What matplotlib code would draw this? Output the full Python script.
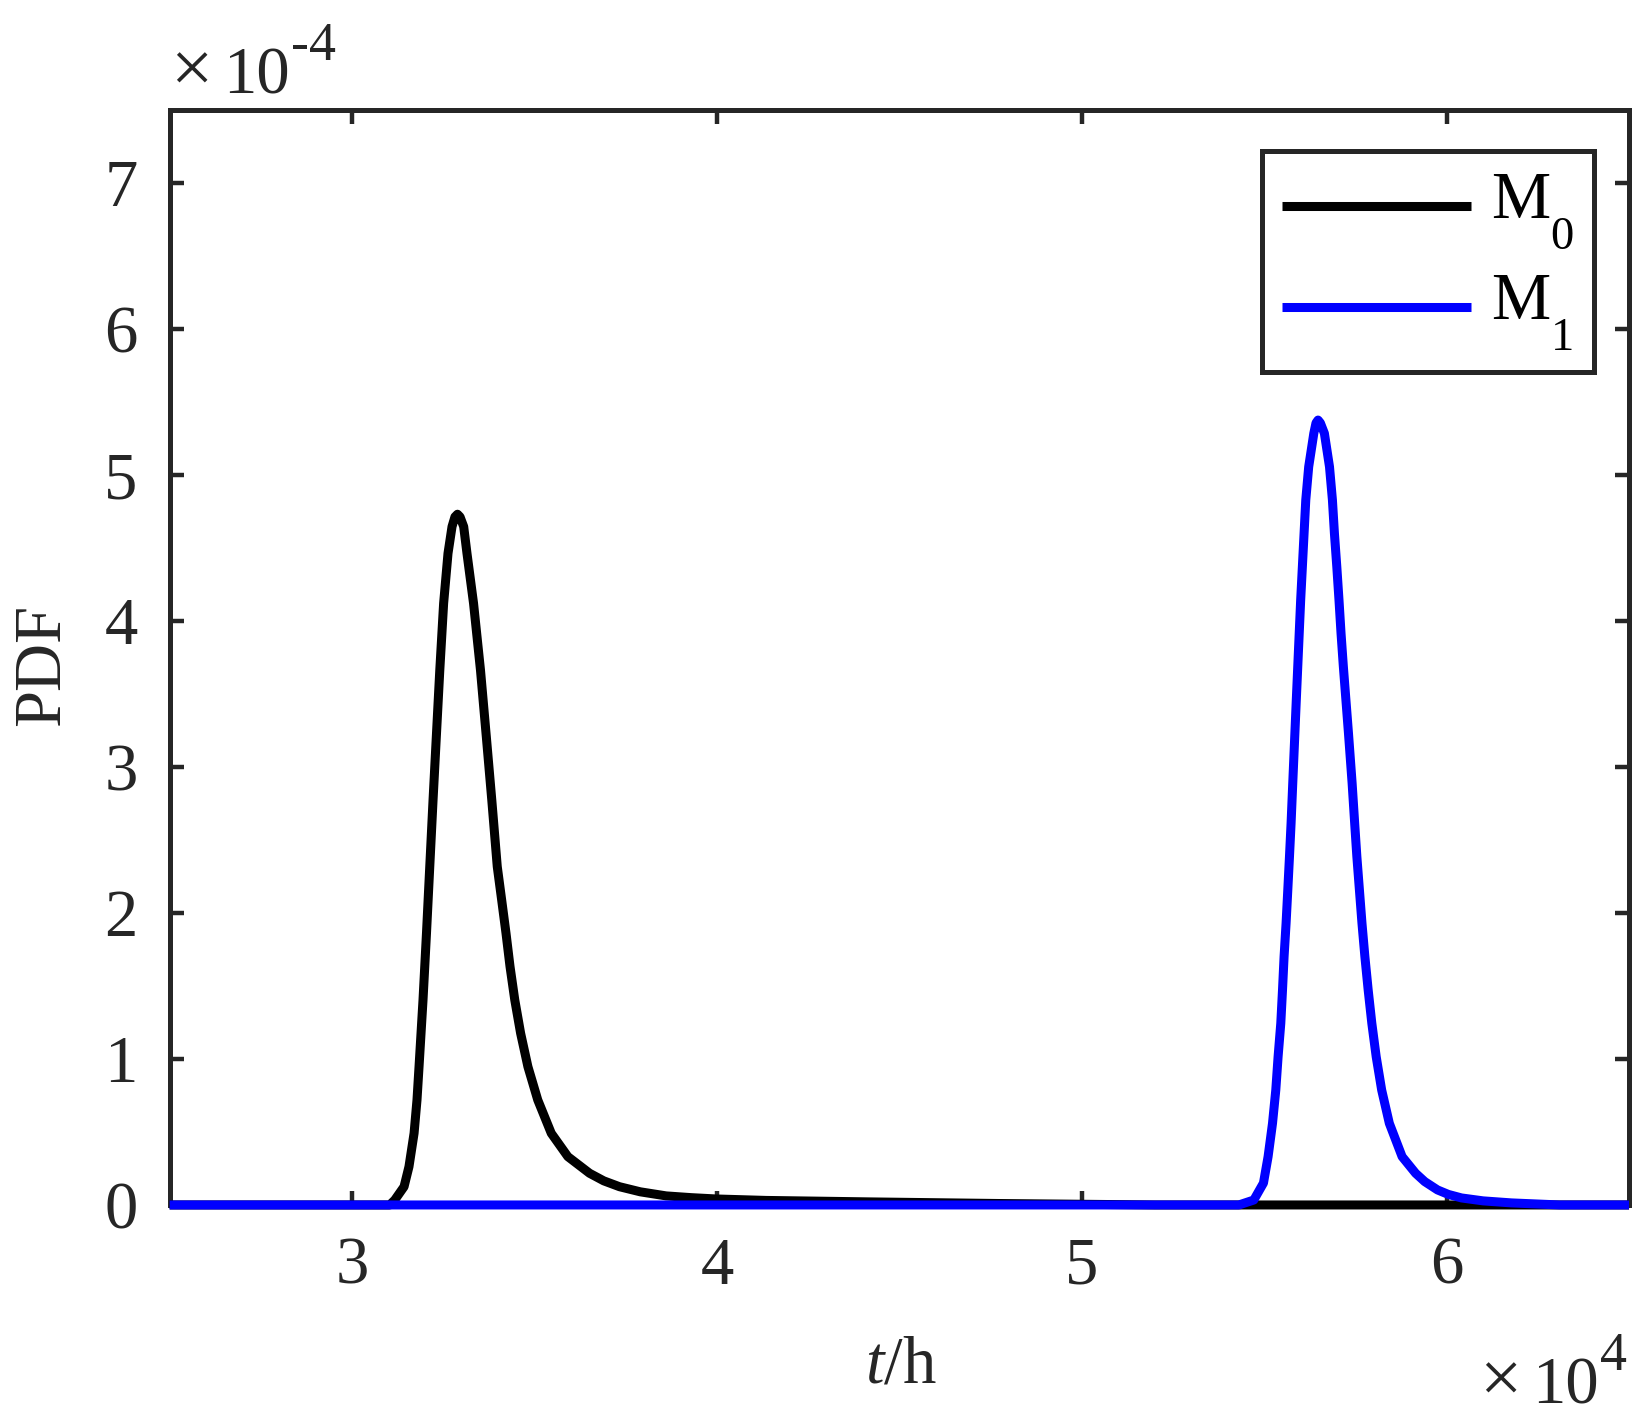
import numpy as np
import matplotlib
matplotlib.use('Agg')
import matplotlib.pyplot as plt

plt.rcParams['font.family'] = ['Liberation Serif', 'DejaVu Serif']
plt.rcParams['mathtext.fontset'] = 'custom'
plt.rcParams['mathtext.rm'] = 'Liberation Serif'
plt.rcParams['mathtext.it'] = 'Liberation Serif:italic'

# MATLAB puts subscripts much lower than mathtext does
try:
    from matplotlib import _mathtext
    _mathtext.FontConstantsBase.sub1 = 1.0
    _mathtext.FontConstantsBase.subdrop = 1.0
except Exception:
    pass

# t in units of 1e4 h, PDF in units of 1e-4
t_m0 = [2.5, 3.103, 3.117, 3.1425, 3.156, 3.170, 3.178, 3.1836, 3.1945, 3.204,
        3.213, 3.222, 3.231, 3.2405, 3.251, 3.263, 3.274, 3.282, 3.289, 3.296,
        3.306, 3.315, 3.333, 3.352, 3.368, 3.383, 3.398, 3.410, 3.422, 3.433,
        3.446, 3.462, 3.482, 3.509, 3.546, 3.5915, 3.651, 3.69, 3.733, 3.79,
        3.861, 3.93, 3.998, 4.135, 4.4175, 4.77, 5.2, 6.5]
pdf_m0 = [0, 0, 0.034, 0.125, 0.262, 0.491, 0.719, 0.947, 1.404, 1.860,
          2.317, 2.773, 3.207, 3.663, 4.120, 4.462, 4.645, 4.712, 4.730, 4.712,
          4.645, 4.462, 4.120, 3.663, 3.207, 2.773, 2.317, 2.090, 1.860, 1.632,
          1.404, 1.176, 0.947, 0.719, 0.491, 0.331, 0.217, 0.165, 0.125, 0.090,
          0.062, 0.050, 0.041, 0.031, 0.021, 0.010, 0, 0]

t_m1 = [2.5, 5.4305, 5.4716, 5.498, 5.5107, 5.5228, 5.5318, 5.5381, 5.5455, 5.5502,
        5.5545, 5.560, 5.5647, 5.5693, 5.5737, 5.5775, 5.588, 5.600, 5.614, 5.622,
        5.636, 5.642, 5.6476, 5.654, 5.665, 5.679, 5.687, 5.6925, 5.699, 5.705,
        5.7106, 5.717, 5.724, 5.731, 5.741, 5.748, 5.754, 5.761, 5.768, 5.776,
        5.785, 5.795, 5.807, 5.822, 5.843, 5.878, 5.915, 5.94, 5.975, 6.005,
        6.041, 6.10, 6.178, 6.31, 6.5]
pdf_m1 = [0, 0, 0.034, 0.150, 0.331, 0.559, 0.787, 1.015, 1.244, 1.472,
          1.700, 1.929, 2.157, 2.385, 2.614, 2.842, 3.458, 4.143, 4.828, 5.055,
          5.284, 5.355, 5.375, 5.355, 5.284, 5.055, 4.828, 4.599, 4.371, 4.143,
          3.915, 3.686, 3.458, 3.230, 2.888, 2.614, 2.385, 2.157, 1.929, 1.700,
          1.472, 1.244, 1.015, 0.787, 0.559, 0.331, 0.217, 0.160, 0.103, 0.072,
          0.048, 0.028, 0.014, 0, 0]

x_ticks = [3, 4, 5, 6]
y_ticks = [0, 1, 2, 3, 4, 5, 6, 7]
fg = '#262626'
fs = 48
W, H = 1650, 1427

fig = plt.figure(figsize=(16.5, 14.27), dpi=100)
ax = fig.add_axes([0.1028, 0.1556, 0.8845, 0.7675])

l0, = ax.plot(t_m0, pdf_m0, color='black', lw=6.5, clip_on=False, zorder=3,
              solid_joinstyle='round', solid_capstyle='butt', label=r'M$_0$')
l1, = ax.plot(t_m1, pdf_m1, color='blue', lw=6.5, clip_on=False, zorder=3,
              solid_joinstyle='round', solid_capstyle='butt', label=r'M$_1$')

ax.set_xlim(2.5, 6.5)
ax.set_ylim(0, 7.5)
ax.set_xticks(x_ticks)
ax.set_yticks(y_ticks)
ax.set_xticklabels([str(v) for v in x_ticks])
ax.set_yticklabels([str(v) for v in y_ticks])
ax.tick_params(direction='in', length=10, width=3.2, top=True, right=True,
               labelsize=fs, colors=fg, pad=23)
for s in ax.spines.values():
    s.set_linewidth(3.6)
    s.set_color(fg)

leg = ax.legend(handles=[l0, l1], loc='upper right', bbox_to_anchor=(0.976, 0.962),
                borderaxespad=0, fontsize=fs, handlelength=2.83, handletextpad=0.3,
                labelspacing=0.31, fancybox=False, framealpha=1, borderpad=0.3)
leg.get_frame().set_edgecolor(fg)
leg.get_frame().set_linewidth(3.6)
for h in leg.get_lines():
    h.set_linewidth(6.5)
    # sit the sample line lower, level with the middle of "M" + subscript
    h.set_ydata(np.asarray(h.get_ydata()) - 8)


def scale_label(x0, base, exp, sub=39):
    # "x10^n" written the MATLAB way, pixel positions from the reference
    fig.text((x0 - 3) / W, 1 - base / H, '\u00d7', fontsize=54, color=fg,
             ha='left', va='baseline')
    fig.text((x0 + 50) / W, 1 - base / H, '10', fontsize=fs, color=fg,
             ha='left', va='baseline')
    fig.text((x0 + 118) / W, 1 - (base - 33) / H, exp, fontsize=sub, color=fg,
             ha='left', va='baseline')


scale_label(173, 93, '-4')
scale_label(1482, 1403, '4')

fig.text(901 / W, 1 - 1383 / H, r'$t$/h', fontsize=fs, color=fg,
         ha='center', va='baseline')
fig.text(43 / W, 1 - 665 / H, 'PDF', fontsize=fs, color=fg, rotation=90,
         ha='center', va='center')

fig.savefig('out.png', dpi=100)
